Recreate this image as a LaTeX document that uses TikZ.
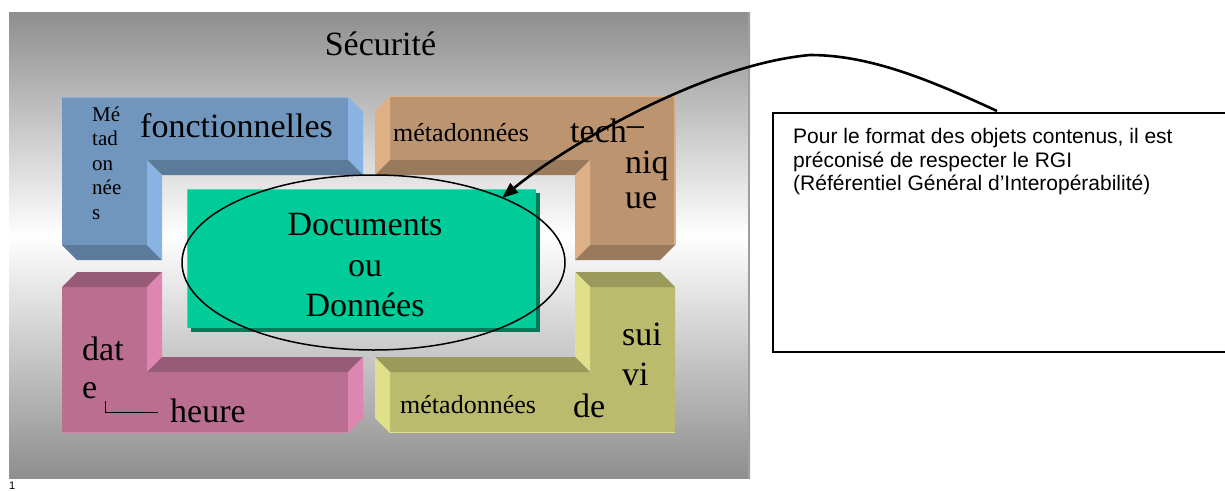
\documentclass[tikz,border=0pt]{standalone}
\usepackage{fontspec}
\setmainfont{Liberation Serif}
\newfontfamily\arialf{Liberation Sans}
\usetikzlibrary{arrows.meta,shapes.geometric}
\definecolor{panelg}{HTML}{8E8E8E}
\definecolor{blueF}{HTML}{7096BE}
\definecolor{blueL}{HTML}{88B3E2}
\definecolor{blueD}{HTML}{5C7A9A}
\definecolor{brownF}{HTML}{BC9570}
\definecolor{brownL}{HTML}{DDB085}
\definecolor{brownD}{HTML}{9A7A5C}
\definecolor{pinkF}{HTML}{BA6F91}
\definecolor{pinkL}{HTML}{DD86B1}
\definecolor{pinkD}{HTML}{975B77}
\definecolor{yelF}{HTML}{BBBB6E}
\definecolor{yelL}{HTML}{E0E08A}
\definecolor{yelD}{HTML}{9A9A5B}
\definecolor{docG}{HTML}{00CC99}
\definecolor{docD}{HTML}{007A5A}
\definecolor{docL}{HTML}{40DDB5}
\begin{document}
\begin{tikzpicture}[x=1pt,y=-1pt,
  lbl/.style={inner sep=0pt, anchor=base west},
  lblc/.style={inner sep=0pt, anchor=base},
  big/.style={font=\fontsize{34}{40}\selectfont},
  mid/.style={font=\fontsize{26}{30}\selectfont},
  small/.style={font=\fontsize{21}{24}\selectfont},
  notefont/.style={font=\arialf\fontsize{21}{23.5}\selectfont},
  docbox/.style={fill=docG, minimum width=348pt, minimum height=138pt, inner sep=0pt},
  ring/.style={draw=black, line width=1.5pt, ellipse, minimum width=383pt, minimum height=175pt, inner sep=0pt},
  notebox/.style={draw=black, line width=1.5pt, fill=white, minimum width=454pt, minimum height=239pt, inner sep=0pt, anchor=north west},
  pointer/.style={line width=2.6pt, -{Triangle[length=16pt,width=12pt]}}
]
\useasboundingbox (0,0) rectangle (1225,490);
% background panel
\shade[top color=panelg, bottom color=white] (9,12) rectangle (750,236);
\shade[top color=white, bottom color=panelg] (9,235) rectangle (750,478);
\draw[gray!75, line width=2pt] (749,12) -- (749,478);
% blue block
\fill[blueF] (62,97) -- (348,97) -- (348,160) -- (147,160) -- (147,245) -- (62,245) -- cycle;
\fill[blueL] (348,97) -- (363,112) -- (363,175) -- (348,160) -- cycle;
\fill[blueD] (147,160) -- (348,160) -- (363,175) -- (162,175) -- cycle;
\fill[blueL] (147,160) -- (162,175) -- (162,260) -- (147,245) -- cycle;
\fill[blueD] (62,245) -- (147,245) -- (162,260) -- (77,260) -- cycle;
\draw[blueL, line width=1.2pt] (62,97.5) -- (348,97.5);
% brown block
\fill[brownF] (390,96) -- (675,96) -- (675,245) -- (590,245) -- (590,160) -- (390,160) -- cycle;
\fill[brownL] (390,96) -- (375,111) -- (375,175) -- (390,160) -- cycle;
\fill[brownD] (390,160) -- (590,160) -- (575,175) -- (375,175) -- cycle;
\fill[brownL] (590,160) -- (590,245) -- (575,260) -- (575,175) -- cycle;
\fill[brownD] (590,245) -- (675,245) -- (660,260) -- (575,260) -- cycle;
\draw[brownL, line width=1.2pt] (390,96.5) -- (675,96.5) -- (675,245);
% pink block
\fill[pinkF] (62,287) -- (147,287) -- (147,372) -- (348,372) -- (348,433) -- (62,433) -- cycle;
\fill[pinkD] (62,287) -- (77,272) -- (162,272) -- (147,287) -- cycle;
\fill[pinkL] (147,287) -- (162,272) -- (162,357) -- (147,372) -- cycle;
\fill[pinkD] (147,372) -- (162,357) -- (363,357) -- (348,372) -- cycle;
\fill[pinkL] (348,372) -- (363,357) -- (363,418) -- (348,433) -- cycle;
\draw[pinkL, line width=1.2pt] (62,432.5) -- (348,432.5);
% yellow block
\fill[yelF] (390,372) -- (590,372) -- (590,287) -- (675,287) -- (675,433) -- (390,433) -- cycle;
\fill[yelD] (590,287) -- (575,272) -- (660,272) -- (675,287) -- cycle;
\fill[yelL] (590,287) -- (575,272) -- (575,357) -- (590,372) -- cycle;
\fill[yelD] (390,372) -- (375,357) -- (575,357) -- (590,372) -- cycle;
\fill[yelL] (390,372) -- (375,357) -- (375,418) -- (390,433) -- cycle;
\draw[yelL, line width=1.2pt] (390,432.5) -- (675,432.5);
% documents box
\fill[docD] (191,193) rectangle (540,332);
\node[docbox] (docs) at (362,259) {};
\draw[docL, line width=1pt] (docs.south west) -- (docs.north west) -- (docs.north east);
\node[ring] (ring) at (373.5,262.5) {};
\node[lblc, big] (docs1) at (365,235) {Documents};
\node[lblc, big] (docs2) at (365,276) {ou};
\node[lblc, big] (docs3) at (365,316) {Données};
% title
\node[lblc, font=\fontsize{34}{40}\selectfont] (title) at (380.5,55) {Sécurité};
% blue labels
\node[lbl, small] (mt1) at (92,121) {Mé};
\node[lbl, small] (mt2) at (92,145.5) {tad};
\node[lbl, small] (mt3) at (92,170) {on};
\node[lbl, small] (mt4) at (92,194.5) {née};
\node[lbl, small] (mt5) at (92,219) {s};
\node[lbl, big] (fonc) at (140,137) {fonctionnelles};
% brown labels
\node[lbl, mid] (meta1) at (393,141) {métadonnées};
\node[lbl, big] (tech) at (570,142) {tech\raisebox{6.5pt}{–}};
\node[lbl, big] (niq) at (625,173) {niq};
\node[lbl, big] (ue) at (625,208) {ue};
% pink labels
\node[lbl, big] (dat) at (82,360) {dat};
\node[lbl, big] (e) at (82,398) {e};
\node[lbl, big] (heure) at (170,422) {heure};
\draw[black, line width=0.9pt] (105,401) -- (105,412) -- (158,412);
% yellow labels
\node[lbl, big] (sui) at (622,345) {sui};
\node[lbl, big] (vi) at (622,385) {vi};
\node[lbl, big] (de) at (573,417) {de};
\node[lbl, mid] (meta2) at (400,413) {métadonnées};
% note box
\node[notebox] (note) at (772,112) {};
\node[lbl, notefont] (n1) at (793,143) {Pour le format des objets contenus, il est};
\node[lbl, notefont] (n2) at (793,167) {préconisé de respecter le RGI};
\node[lbl, notefont] (n3) at (793,190) {(Référentiel Général d’Interopérabilité)};
% arrow
\coordinate (astart) at (997,111);
\coordinate (apeak) at (810,55);
\coordinate (aend) at (502,198);
\draw[pointer] (astart) .. controls (930,80) and (870,55) .. (apeak) .. controls (700,65) and (560,150) .. (aend);
% page number
\node[lbl, font=\arialf\fontsize{11}{13}\selectfont] (pg) at (9,489) {1};
\end{tikzpicture}
\end{document}
